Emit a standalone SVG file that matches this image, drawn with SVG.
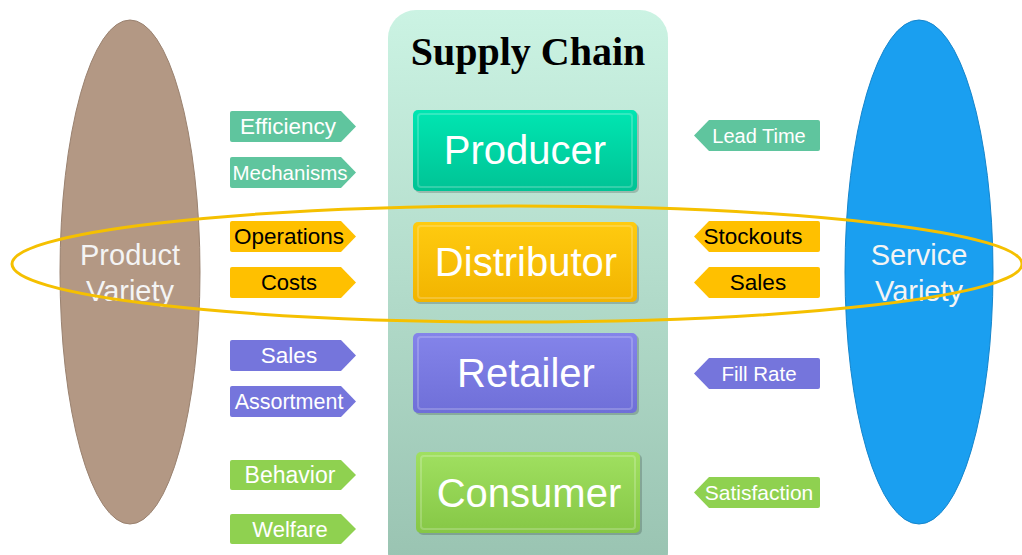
<svg xmlns="http://www.w3.org/2000/svg" width="1022" height="555" viewBox="0 0 1022 555">
<style>
.tagtxt{font-family:"Liberation Sans",Arial,sans-serif;text-anchor:middle}
.w{fill:#ffffff}
.k{fill:#000000}
.boxtxt{font-family:"Liberation Sans",Arial,sans-serif;font-size:40px;fill:#ffffff;text-anchor:middle}
.vartxt{font-family:"Liberation Sans",Arial,sans-serif;font-size:29px;fill:#f4f4f4;text-anchor:middle}
.teal{fill:#5fc59e}
.gold{fill:#ffc000}
.purp{fill:#7575dc}
.grn{fill:#8fd150}
.bevel{fill:none;stroke:#ffffff;stroke-opacity:0.2;stroke-width:2}
</style>
<defs>
<linearGradient id="gPanel" x1="0" y1="0" x2="0" y2="1">
<stop offset="0" stop-color="#cbf3e3"/>
<stop offset="1" stop-color="#98c2b0"/>
</linearGradient>
<linearGradient id="gProd" x1="0" y1="0" x2="0" y2="1">
<stop offset="0" stop-color="#00e6b2"/>
<stop offset="1" stop-color="#00c395"/>
</linearGradient>
<linearGradient id="gDist" x1="0" y1="0" x2="0" y2="1">
<stop offset="0" stop-color="#ffcb10"/>
<stop offset="1" stop-color="#f2b400"/>
</linearGradient>
<linearGradient id="gRet" x1="0" y1="0" x2="0" y2="1">
<stop offset="0" stop-color="#8484ea"/>
<stop offset="1" stop-color="#6f6fd8"/>
</linearGradient>
<linearGradient id="gCons" x1="0" y1="0" x2="0" y2="1">
<stop offset="0" stop-color="#a0e060"/>
<stop offset="1" stop-color="#86c746"/>
</linearGradient>
</defs>

<g id="product-variety">
<ellipse cx="130" cy="272" rx="70" ry="252" fill="#b39884" stroke="#9a8270" stroke-width="1"/>
<text class="vartxt" x="130" y="265">Product</text>
<text class="vartxt" x="130" y="301">Variety</text>
</g>

<g id="service-variety">
<ellipse cx="919" cy="272" rx="74" ry="252" fill="#1a9ff0" stroke="#1585cc" stroke-width="1"/>
<text class="vartxt" x="919" y="265">Service</text>
<text class="vartxt" x="919" y="301">Variety</text>
</g>

<g id="supply-chain">
<rect x="388" y="10" width="280" height="570" rx="28" fill="url(#gPanel)"/>
<text x="528" y="65" font-family="'Liberation Serif','Times New Roman',serif" font-weight="bold" font-size="40" text-anchor="middle" fill="#000">Supply Chain</text>
</g>

<g id="producer">
<rect x="415" y="112" width="224" height="81" rx="5" fill="#000" opacity="0.18"/>
<rect x="413" y="110" width="224" height="81" rx="5" fill="url(#gProd)"/>
<rect x="418" y="114" width="214" height="73" rx="3" class="bevel"/>
<text class="boxtxt" x="525" y="164">Producer</text>
</g>

<g id="distributor">
<rect x="415" y="224" width="224" height="80" rx="5" fill="#000" opacity="0.18"/>
<rect x="413" y="222" width="224" height="80" rx="5" fill="url(#gDist)"/>
<rect x="418" y="226" width="214" height="72" rx="3" class="bevel"/>
<text class="boxtxt" x="526" y="276">Distributor</text>
</g>

<g id="retailer">
<rect x="415" y="335" width="224" height="80" rx="5" fill="#000" opacity="0.18"/>
<rect x="413" y="333" width="224" height="80" rx="5" fill="url(#gRet)"/>
<rect x="418" y="337" width="214" height="72" rx="3" class="bevel"/>
<text class="boxtxt" x="526" y="387">Retailer</text>
</g>

<g id="consumer">
<rect x="418" y="454" width="224" height="81" rx="5" fill="#000" opacity="0.18"/>
<rect x="416" y="452" width="224" height="81" rx="5" fill="url(#gCons)"/>
<rect x="421" y="456" width="214" height="73" rx="3" class="bevel"/>
<text class="boxtxt" x="529" y="507">Consumer</text>
</g>

<g id="tags-left">
<g id="tag-efficiency"><path class="teal" d="M232,111 H341 L356,126.5 L341,142 H232 Q230,142 230,140 V113 Q230,111 232,111 Z"/><text class="tagtxt w" x="288" y="134" font-size="22.5">Efficiency</text></g>
<g id="tag-mechanisms"><path class="teal" d="M232,157 H341 L356,172.5 L341,188 H232 Q230,188 230,186 V159 Q230,157 232,157 Z"/><text class="tagtxt w" x="290" y="180" font-size="20.5">Mechanisms</text></g>
<g id="tag-operations"><path class="gold" d="M232,221 H341 L356,236.5 L341,252 H232 Q230,252 230,250 V223 Q230,221 232,221 Z"/><text class="tagtxt k" x="289" y="244" font-size="22.5">Operations</text></g>
<g id="tag-costs"><path class="gold" d="M232,267 H341 L356,282.5 L341,298 H232 Q230,298 230,296 V269 Q230,267 232,267 Z"/><text class="tagtxt k" x="289" y="290" font-size="22">Costs</text></g>
<g id="tag-sales-l"><path class="purp" d="M232,340 H341 L356,355.5 L341,371 H232 Q230,371 230,369 V342 Q230,340 232,340 Z"/><text class="tagtxt w" x="289" y="363" font-size="22.5">Sales</text></g>
<g id="tag-assortment"><path class="purp" d="M232,386 H341 L356,401.5 L341,417 H232 Q230,417 230,415 V388 Q230,386 232,386 Z"/><text class="tagtxt w" x="289" y="409" font-size="21.5">Assortment</text></g>
<g id="tag-behavior"><path class="grn" d="M232,460 H341 L356,475 L341,490 H232 Q230,490 230,488 V462 Q230,460 232,460 Z"/><text class="tagtxt w" x="290" y="483" font-size="23">Behavior</text></g>
<g id="tag-welfare"><path class="grn" d="M232,514 H341 L356,529 L341,544 H232 Q230,544 230,542 V516 Q230,514 232,514 Z"/><text class="tagtxt w" x="290" y="537" font-size="22">Welfare</text></g>
</g>

<g id="tags-right">
<g id="tag-leadtime"><path class="teal" d="M818,120 H709 L694,135.5 L709,151 H818 Q820,151 820,149 V122 Q820,120 818,120 Z"/><text class="tagtxt w" x="759" y="143" font-size="20">Lead Time</text></g>
<g id="tag-stockouts"><path class="gold" d="M818,221 H709 L694,236.5 L709,252 H818 Q820,252 820,250 V223 Q820,221 818,221 Z"/><text class="tagtxt k" x="753" y="244" font-size="22.5">Stockouts</text></g>
<g id="tag-sales-r"><path class="gold" d="M818,267 H709 L694,282.5 L709,298 H818 Q820,298 820,296 V269 Q820,267 818,267 Z"/><text class="tagtxt k" x="758" y="290" font-size="22.5">Sales</text></g>
<g id="tag-fillrate"><path class="purp" d="M818,358 H709 L694,373.5 L709,389 H818 Q820,389 820,387 V360 Q820,358 818,358 Z"/><text class="tagtxt w" x="759" y="381" font-size="20.5">Fill Rate</text></g>
<g id="tag-satisfaction"><path class="grn" d="M818,477 H709 L694,492.5 L709,508 H818 Q820,508 820,506 V479 Q820,477 818,477 Z"/><text class="tagtxt w" x="759" y="500" font-size="21">Satisfaction</text></g>
</g>

<g id="connectors">
<ellipse cx="517" cy="264" rx="505" ry="58" fill="none" stroke="#f5c000" stroke-width="3"/>
</g>
</svg>
